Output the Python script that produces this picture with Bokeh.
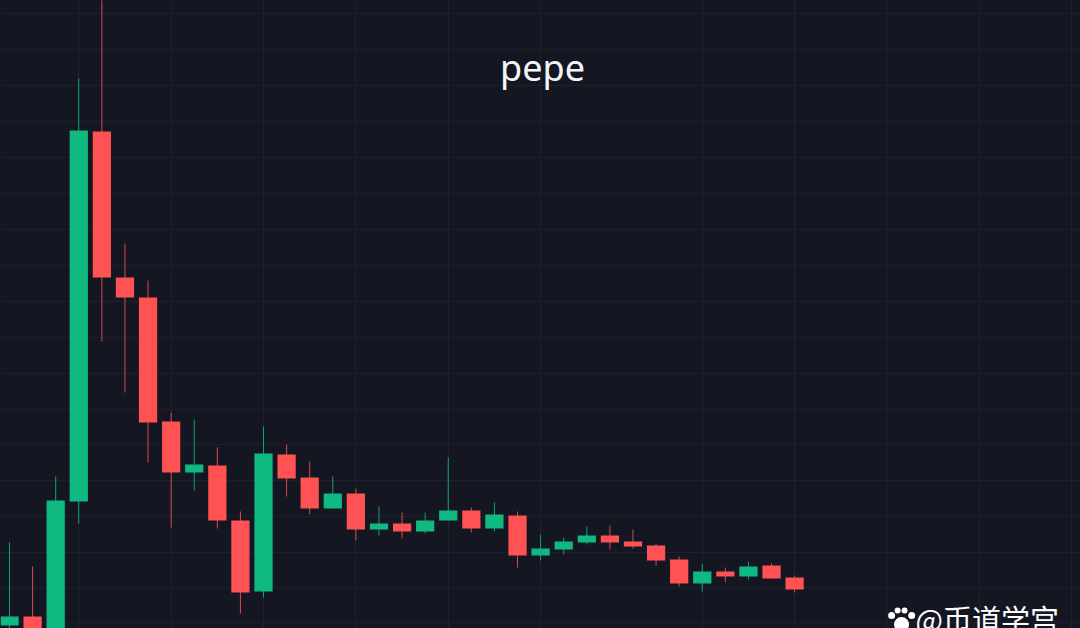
from bokeh.embed import file_html
from bokeh.resources import INLINE
from bokeh.plotting import figure
from bokeh.models import FixedTicker, Label, Range1d

# candle values in chart units (height above the bottom edge of the chart)
candle_index = list(range(35))
open_ = [3, 12, -12, 127, 497, 351, 331, 207, 156, 163, 108, 37, 174, 151, 120, 135, 99, 105, 97, 108, 118, 100, 113, 73, 79, 86, 93, 87, 83, 69, 45, 57, 52, 63, 51]
close = [12, -12, 128, 498, 351, 331, 206, 156, 164, 108, 36, 175, 150, 120, 135, 99, 105, 97, 108, 118, 100, 114, 73, 80, 87, 93, 86, 82, 68, 45, 57, 52, 62, 50, 39]
high = [86, 62, 152, 550, 640, 385, 348, 216, 209, 181, 117, 202, 184, 167, 152, 140, 122, 116, 116, 171, 121, 126, 117, 94, 91, 102, 103, 99, 85, 72, 65, 61, 67, 65, 53]
low = [-4, -22, -22, 105, 287, 236, 166, 101, 138, 100, 15, 31, 132, 114, 120, 88, 93, 90, 95, 108, 96, 97, 61, 68, 74, 84, 79, 80, 63, 42, 37, 46, 49, 50, 36]

grid_x = [3, 7, 11, 15, 19, 23, 30, 34, 38, 42, 46]
grid_y = [6, 41, 76, 112, 148, 184, 219, 255, 291, 327, 363, 399, 435, 471, 507, 543, 579, 615]

title_text = "pepe"
watermark_text = "@币道学宫"
paw_x = [38.2, 38.46, 38.76, 39.07, 38.63]
paw_y = [13, 18, 18, 13, 4]
paw_size = [7, 6, 6, 7, 15]

BG = "#141722"
UP = "#10B981"
DOWN = "#FF5252"

p = figure(width=1080, height=628, output_backend="svg", toolbar_location=None,
           x_range=Range1d(-0.39, 46.38), y_range=Range1d(0, 628),
           background_fill_color=BG, border_fill_color=BG, min_border=0,
           outline_line_color=None)
p.xaxis.visible = False
p.yaxis.visible = False
p.xgrid.ticker = FixedTicker(ticks=grid_x)
p.ygrid.ticker = FixedTicker(ticks=grid_y)
p.xgrid.grid_line_color = "#20232F"
p.ygrid.grid_line_color = "#1D202C"
p.xgrid.grid_line_width = 1
p.ygrid.grid_line_width = 1

up = [i for i in candle_index if close[i] >= open_[i]]
down = [i for i in candle_index if close[i] < open_[i]]
for idx, col in ((up, UP), (down, DOWN)):
    p.segment([candle_index[i] for i in idx], [high[i] for i in idx],
              [candle_index[i] for i in idx], [low[i] for i in idx],
              line_color=col, line_width=1, line_alpha=0.85)
    p.vbar(x=[candle_index[i] for i in idx], width=0.79,
           top=[max(open_[i], close[i]) for i in idx],
           bottom=[min(open_[i], close[i]) for i in idx],
           fill_color=col, line_color=None)

p.add_layout(Label(x=542, y=561, x_units="screen", y_units="screen", text=title_text,
                   text_color="#F4F5F7", text_font="Noto Sans", text_font_size="36px",
                   text_align="center", text_baseline="alphabetic"))
p.add_layout(Label(x=915, y=11, x_units="screen", y_units="screen", text=watermark_text,
                   text_color="#FFFFFF", text_font="Noto Sans CJK SC", text_font_size="29px",
                   text_align="left", text_baseline="alphabetic"))
p.scatter(paw_x, paw_y, size=paw_size, marker="circle", fill_color="#FFFFFF", line_color=None)

html = file_html(p, INLINE)
html = html.replace("<head>", "<head><style>html,body{margin:0;padding:0;overflow:hidden;background:#141722}</style>", 1)
open("out.html", "w").write(html)
